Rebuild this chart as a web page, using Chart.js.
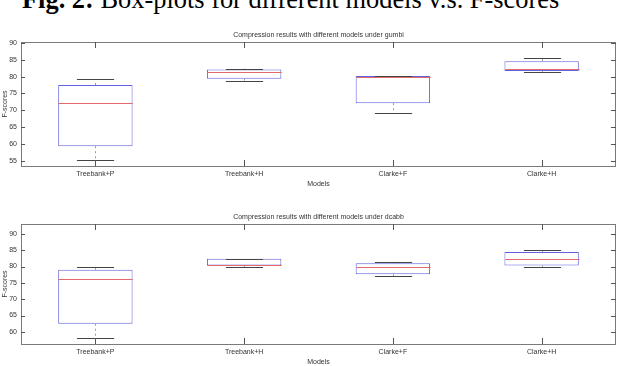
<!DOCTYPE html>
<html><head><meta charset="utf-8">
<script src="https://cdn.jsdelivr.net/npm/chart.js@4"></script>
<style>
html,body{margin:0;padding:0;background:#fff;width:618px;height:366px;overflow:hidden;position:relative}
#cap{position:absolute;left:22px;top:-14px;font-family:"Liberation Serif","DejaVu Serif",serif;font-size:26.4px;line-height:26px;white-space:nowrap;color:#000}
canvas{position:absolute;left:0}
</style></head><body>
<div id="cap"><b>Fig. 2:</b> Box-plots for different models v.s. F-scores</div>
<canvas id="c1" width="618" height="190" style="top:0px"></canvas>
<canvas id="c2" width="618" height="176" style="top:190px"></canvas>
<script>
const categories = ['Treebank+P','Treebank+H','Clarke+F','Clarke+H'];

const gumbiMin = [55.2, 78.8, 69.2, 81.4];
const gumbiQ1  = [59.3, 79.4, 72.1, 81.7];
const gumbiMed = [72.2, 81.3, 79.9, 82.2];
const gumbiQ3  = [77.5, 82.1, 80.2, 84.6];
const gumbiMax = [79.3, 82.4, 80.2, 85.5];

const dcabbMin = [58.2, 79.7, 77.0, 79.7];
const dcabbQ1  = [62.5, 80.3, 77.6, 80.3];
const dcabbMed = [76.3, 80.4, 80.0, 82.2];
const dcabbQ3  = [79.0, 82.4, 81.0, 84.4];
const dcabbMax = [80.0, 82.4, 81.4, 84.9];

const gumbiTicks = [55, 60, 65, 70, 75, 80, 85, 90];
const dcabbTicks = [60, 65, 70, 75, 80, 85, 90];

const FONT = "'Liberation Sans', Arial, sans-serif";

function makeChart(id, title, mins, q1, med, q3, maxs, tickVals, yMin, yMax, padTop, padBottom) {
  const boxPlugin = {
    id: 'boxes',
    afterDatasetsDraw(chart) {
      const {ctx, scales: {x, y}} = chart;
      const cw = x.getPixelForValue(1) - x.getPixelForValue(0);
      const bh = cw * 0.25, ch = cw * 0.125;
      ctx.save();
      for (let i = 0; i < categories.length; i++) {
        const cx = Math.round(x.getPixelForValue(i)) + 0.5;
        ctx.strokeStyle = '#9a9a9a'; ctx.lineWidth = 1; ctx.setLineDash([2, 3]);
        ctx.beginPath();
        ctx.moveTo(cx, y.getPixelForValue(q3[i])); ctx.lineTo(cx, y.getPixelForValue(maxs[i]));
        ctx.moveTo(cx, y.getPixelForValue(q1[i])); ctx.lineTo(cx, y.getPixelForValue(mins[i]));
        ctx.stroke();
        ctx.setLineDash([]);
        ctx.strokeStyle = '#444';
        ctx.beginPath();
        let yy = Math.round(y.getPixelForValue(maxs[i])) + 0.5;
        ctx.moveTo(cx - ch, yy); ctx.lineTo(cx + ch, yy);
        yy = Math.round(y.getPixelForValue(mins[i])) + 0.5;
        ctx.moveTo(cx - ch, yy); ctx.lineTo(cx + ch, yy);
        ctx.stroke();
        ctx.strokeStyle = '#e36a6a';
        ctx.beginPath();
        yy = Math.round(y.getPixelForValue(med[i])) + 0.5;
        ctx.moveTo(cx - bh, yy); ctx.lineTo(cx + bh, yy);
        ctx.stroke();
      }
      ctx.restore();
    },
    afterDraw(chart) {
      const {ctx, chartArea: a, scales: {x, y}} = chart;
      ctx.save();
      ctx.strokeStyle = '#7a7a7a'; ctx.lineWidth = 1;
      ctx.strokeRect(Math.round(a.left) + 0.5, Math.round(a.top) + 0.5, Math.round(a.right - a.left) - 1, Math.round(a.bottom - a.top));
      ctx.strokeStyle = '#555';
      ctx.beginPath();
      y.ticks.forEach(t => {
        const yy = Math.round(y.getPixelForValue(t.value)) + 0.5;
        ctx.moveTo(a.left, yy); ctx.lineTo(a.left + 4, yy);
        ctx.moveTo(a.right, yy); ctx.lineTo(a.right - 5, yy);
      });
      for (let i = 0; i < categories.length; i++) {
        const cx = Math.round(x.getPixelForValue(i)) + 0.5;
        ctx.moveTo(cx, a.top); ctx.lineTo(cx, a.top + 6);
        ctx.moveTo(cx, a.bottom); ctx.lineTo(cx, a.bottom - 6);
      }
      ctx.stroke();
      ctx.fillStyle = '#333';
      ctx.font = '7px ' + FONT;
      ctx.textAlign = 'center'; ctx.textBaseline = 'middle';
      ctx.fillText(title, (a.left + a.right) / 2, a.top - 7);
      ctx.restore();
    }
  };
  return new Chart(document.getElementById(id), {
    type: 'bar',
    data: {
      labels: categories,
      datasets: [{
        data: q1.map((v, i) => [v, q3[i]]),
        backgroundColor: '#ffffff',
        borderColor: '#6262e0',
        borderWidth: 1,
        borderSkipped: false,
        barPercentage: 0.5,
        categoryPercentage: 1.0
      }]
    },
    options: {
      responsive: false,
      animation: false,
      devicePixelRatio: 1,
      layout: {padding: {top: padTop, left: 0, right: 2, bottom: padBottom}},
      plugins: {legend: {display: false}, tooltip: {enabled: false}, title: {display: false}},
      scales: {
        x: {
          grid: {display: false, drawTicks: false},
          border: {display: false},
          ticks: {font: {size: 7, family: FONT}, color: '#333', padding: 4, maxRotation: 0, autoSkip: false},
          title: {display: true, text: 'Models', font: {size: 7, family: FONT}, color: '#333', padding: {top: 0, bottom: 0}},
          afterFit(s) { s.height = 22; }
        },
        y: {
          min: yMin, max: yMax,
          grid: {display: false, drawTicks: false},
          border: {display: false},
          ticks: {font: {size: 7, family: FONT}, color: '#333', padding: 4},
          afterBuildTicks(s) { s.ticks = tickVals.map(v => ({value: v})); },
          title: {display: true, text: 'F-scores', font: {size: 7, family: FONT}, color: '#333', padding: {top: 1, bottom: 0}},
          afterFit(s) { s.width = 21; }
        }
      }
    },
    plugins: [boxPlugin]
  });
}

makeChart('c1', 'Compression results with different models under gumbi',
  gumbiMin, gumbiQ1, gumbiMed, gumbiQ3, gumbiMax, gumbiTicks, 53.4, 90.3, 42, 2);
makeChart('c2', 'Compression results with different models under dcabb',
  dcabbMin, dcabbQ1, dcabbMed, dcabbQ3, dcabbMax, dcabbTicks, 56.3, 93.0, 34, 0);
</script>
</body></html>
